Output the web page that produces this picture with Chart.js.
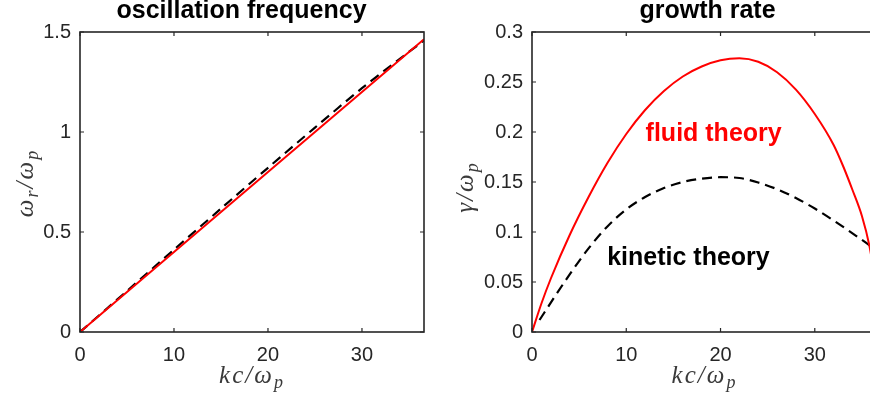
<!DOCTYPE html>
<html>
<head>
<meta charset="utf-8">
<script src="https://cdn.jsdelivr.net/npm/chart.js@4"></script>
<style>
  html, body { margin: 0; padding: 0; background: #fff; overflow: hidden; }
  body { width: 870px; height: 402px; position: relative; }
  canvas { position: absolute; top: 0; }
  #freqChart { left: 0; }
  #growthChart { left: 440px; }
</style>
</head>
<body>
<canvas id="freqChart" width="440" height="402"></canvas>
<canvas id="growthChart" width="440" height="402"></canvas>
<script>
// left panel: real frequency
const kFreq = [0, 5, 10, 15, 20, 25, 30, 36.6];
const omegaFluid = [0, 0.2, 0.4, 0.6, 0.8, 1.0, 1.2, 1.464];
const omegaKinetic = [0, 0.205, 0.412, 0.617, 0.821, 1.022, 1.219, 1.458];

// right panel: growth rate
const kFluid = [0, 1, 2, 4, 6, 8, 10, 12, 14, 16, 18, 20, 22, 24, 26, 28, 30, 32, 33, 34, 35, 35.8, 36.6];
const gammaFluid = [0, 0.0285, 0.0535, 0.097, 0.135, 0.169, 0.198, 0.222, 0.241, 0.2555, 0.2655, 0.2717, 0.2737,
    0.2702, 0.2598, 0.2424, 0.218, 0.187, 0.166, 0.142, 0.116, 0.086, 0.04];
const kKinetic = [0.8, 2.4, 4, 6, 8, 10, 12, 14, 16, 18, 20, 22, 24, 26, 28, 30, 32, 34, 36, 36.6];
const gammaKinetic = [0.012, 0.0352, 0.0576, 0.0836, 0.1056, 0.1226, 0.135, 0.144, 0.150, 0.1534, 0.1548,
    0.1540, 0.1495, 0.1428, 0.1340, 0.1235, 0.1115, 0.0987, 0.0853, 0.081];

// ticks
const kTicks = [0, 10, 20, 30];
const omegaTicks = [0, 0.5, 1, 1.5];
const gammaTicks = [0, 0.05, 0.1, 0.15, 0.2, 0.25, 0.3];

const AXIS_COLOR = '#262626';
const LABEL_COLOR = '#3a3a3a';

function toPoints(xs, ys) {
    return xs.map((x, i) => ({ x: x, y: ys[i] }));
}

function drawMath(ctx, parts, x, y, size, angle) {
    ctx.save();
    ctx.translate(x, y);
    ctx.rotate(angle);
    ctx.fillStyle = LABEL_COLOR;
    ctx.textBaseline = 'alphabetic';
    ctx.textAlign = 'left';
    ctx.letterSpacing = '2px';
    const mainFont = `italic ${size}px "Liberation Serif"`;
    const subFont = `italic ${Math.round(size * 0.7)}px "Liberation Serif"`;
    let total = 0;
    parts.forEach(p => {
        ctx.font = p.sub ? subFont : mainFont;
        total += ctx.measureText(p.t).width;
    });
    let cx = -total / 2;
    parts.forEach(p => {
        ctx.font = p.sub ? subFont : mainFont;
        ctx.fillText(p.t, cx, p.sub ? size * 0.2 : 0);
        cx += ctx.measureText(p.t).width;
    });
    ctx.restore();
}

// box, inward ticks, titles, axis labels, annotations
const framePlugin = {
    id: 'frame',
    afterDraw(chart) {
        const ctx = chart.ctx;
        const a = chart.chartArea;
        const xs = chart.scales.x, ys = chart.scales.y;
        const cfg = chart.options.plugins.frame;
        ctx.save();
        ctx.strokeStyle = AXIS_COLOR;
        ctx.lineWidth = 1.6;
        ctx.strokeRect(a.left, a.top, a.right - a.left, a.bottom - a.top);
        ctx.lineWidth = 1.2;
        ctx.beginPath();
        xs.ticks.forEach(t => {
            const px = xs.getPixelForValue(t.value);
            ctx.moveTo(px, a.bottom); ctx.lineTo(px, a.bottom - 4);
            ctx.moveTo(px, a.top); ctx.lineTo(px, a.top + 4);
        });
        ys.ticks.forEach(t => {
            const py = ys.getPixelForValue(t.value);
            ctx.moveTo(a.left, py); ctx.lineTo(a.left + 4, py);
            ctx.moveTo(a.right, py); ctx.lineTo(a.right - 4, py);
        });
        ctx.stroke();

        // title
        ctx.fillStyle = '#000';
        ctx.font = 'bold 25px "Liberation Sans"';
        ctx.textAlign = 'center';
        ctx.textBaseline = 'alphabetic';
        ctx.fillText(cfg.title, cfg.titleX, 18);

        // annotations
        (cfg.notes || []).forEach(n => {
            ctx.fillStyle = n.color;
            ctx.font = 'bold 25px "Liberation Sans"';
            ctx.textAlign = 'center';
            ctx.fillText(n.text, xs.getPixelForValue(n.x), ys.getPixelForValue(n.y));
        });
        ctx.restore();

        drawMath(ctx, cfg.xLabel, (a.left + a.right) / 2, 383, 25, 0);
        drawMath(ctx, cfg.yLabel, 33, cfg.yLabelY, 25, -Math.PI / 2);
    }
};

function makeChart(id, datasets, yMin, yMax, yTicks, leftW, rightPad, frame) {
    return new Chart(document.getElementById(id), {
        type: 'line',
        data: { datasets: datasets },
        options: {
            responsive: false,
            animation: false,
            devicePixelRatio: 1,
            layout: { padding: { top: 32, right: rightPad, left: 0, bottom: 0 } },
            plugins: { legend: { display: false }, tooltip: { enabled: false }, frame: frame },
            elements: { point: { radius: 0 } },
            scales: {
                x: {
                    type: 'linear', min: 0, max: 36.6,
                    afterFit: s => { s.height = 70; },
                    afterBuildTicks: s => { s.ticks = kTicks.map(v => ({ value: v })); },
                    grid: { display: false, drawTicks: false },
                    border: { display: false },
                    ticks: {
                        padding: 11, color: AXIS_COLOR, maxRotation: 0, autoSkip: false,
                        font: { family: 'Liberation Sans', size: 20 },
                        callback: v => String(v)
                    }
                },
                y: {
                    type: 'linear', min: yMin, max: yMax,
                    afterFit: s => { s.width = leftW; },
                    afterBuildTicks: s => { s.ticks = yTicks.map(v => ({ value: v })); },
                    grid: { display: false, drawTicks: false },
                    border: { display: false },
                    ticks: {
                        padding: 9, color: AXIS_COLOR, autoSkip: false,
                        font: { family: 'Liberation Sans', size: 20 },
                        callback: v => String(+v.toFixed(2))
                    }
                }
            }
        },
        plugins: [framePlugin]
    });
}

makeChart('freqChart', [
    {
        data: toPoints(kFreq, omegaFluid),
        borderColor: '#ff0000', borderWidth: 2, tension: 0
    },
    {
        data: toPoints(kFreq, omegaKinetic),
        borderColor: '#000000', borderWidth: 2.2, borderDash: [10, 6], tension: 0.3
    }
], 0, 1.5, omegaTicks, 80, 16, {
    title: 'oscillation frequency', titleX: 241.5,
    xLabel: [{ t: 'kc/ω' }, { t: 'p', sub: true }],
    yLabel: [{ t: 'ω' }, { t: 'r', sub: true }, { t: '/ω' }, { t: 'p', sub: true }],
    yLabelY: 183
});

makeChart('growthChart', [
    {
        data: toPoints(kFluid, gammaFluid),
        borderColor: '#ff0000', borderWidth: 2, cubicInterpolationMode: 'monotone'
    },
    {
        data: toPoints(kKinetic, gammaKinetic),
        borderColor: '#000000', borderWidth: 2.2, borderDash: [10, 6], cubicInterpolationMode: 'monotone'
    }
], 0, 0.3, gammaTicks, 92, 3, {
    title: 'growth rate', titleX: 267.5,
    xLabel: [{ t: 'kc/ω' }, { t: 'p', sub: true }],
    yLabel: [{ t: 'γ/ω' }, { t: 'p', sub: true }],
    yLabelY: 187,
    notes: [
        { text: 'fluid theory', x: 19.27, y: 0.191, color: '#ff0000' },
        { text: 'kinetic theory', x: 16.6, y: 0.067, color: '#000000' }
    ]
});
</script>
</body>
</html>
